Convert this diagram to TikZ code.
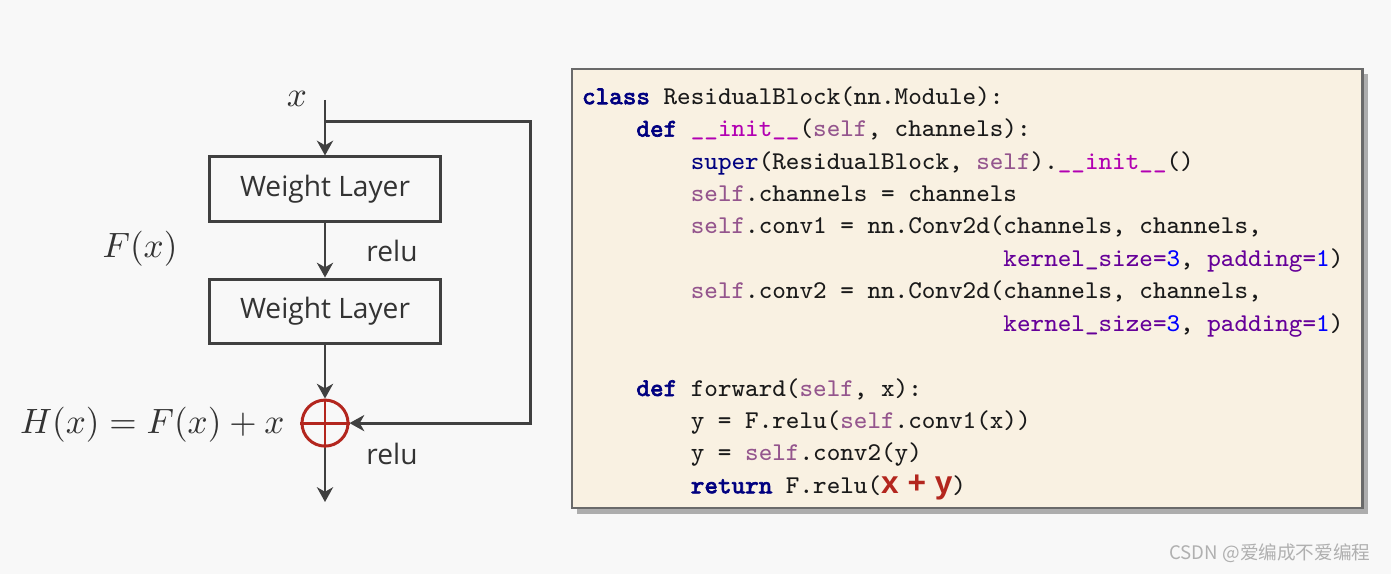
\documentclass[tikz,border=0pt]{standalone}
\usepackage{fontspec}
\usetikzlibrary{arrows.meta, positioning, calc, shadows}
\newfontfamily\labelfont{Open Sans}
\newfontfamily\codefont[BoldFont={*}, BoldFeatures={FakeBold=2.5}]{Latin Modern Mono}
\newfontfamily\sumfont{Liberation Sans}
\newfontfamily\cjkfont{Noto Sans CJK SC}
\definecolor{pagebg}{HTML}{F8F8F8}
\definecolor{linegray}{HTML}{404040}
\definecolor{textdark}{HTML}{333333}
\definecolor{sumred}{HTML}{B3261E}
\definecolor{codebg}{HTML}{F9F1E2}
\definecolor{codeborder}{HTML}{6A6A6A}
\definecolor{codenavy}{HTML}{000080}
\definecolor{codeself}{HTML}{94558D}
\definecolor{codemagic}{HTML}{B200B2}
\definecolor{codeparam}{HTML}{660099}
\definecolor{codenum}{HTML}{0000FF}
\definecolor{codetext}{HTML}{1A1A1A}
\definecolor{marktext}{HTML}{B0B0B0}

\newcommand{\kw}[1]{{\color{codenavy}\bfseries #1}}
\newcommand{\bltin}[1]{{\color{codenavy}#1}}
\newcommand{\slf}{{\color{codeself}self}}
\newcommand{\mg}[1]{{\color{codemagic}#1}}
\newcommand{\pr}[1]{{\color{codeparam}#1}}
\newcommand{\nm}[1]{{\color{codenum}#1}}
\newcommand{\xy}[1]{{\color{sumred}\sumfont\fontsize{9}{9}\selectfont\bfseries #1}}

\tikzset{
  layerbox/.style={draw=linegray, line width=0.85pt, fill=pagebg,
    minimum width=2.3cm, minimum height=0.64cm, inner sep=0pt,
    text=textdark, font=\labelfont\fontsize{8}{9}\selectfont},
  flow/.style={draw=linegray, line width=0.85pt, -{Stealth[length=4.2pt, width=4.6pt, inset=1.3pt]}},
  sumnode/.style={circle, draw=sumred, line width=0.85pt, minimum size=0.46cm, inner sep=0pt},
  lbl/.style={text=textdark, font=\labelfont\fontsize{8}{9}\selectfont},
  mathlbl/.style={text=textdark, font=\fontsize{9.7}{11}\selectfont},
}

\begin{document}
\begin{tikzpicture}[x=0.01cm, y=-0.01cm]
  \useasboundingbox (0,0) rectangle (1391,574);
  \fill[pagebg] (0,0) rectangle (1391,574);

  % residual block
  \coordinate (in) at (325,100);
  \node[layerbox] (w1) at (325,189) {Weight Layer};
  \node[layerbox, below=0.55cm of w1] (w2) {Weight Layer};
  \node[sumnode, below=0.54cm of w2] (sum) {};
  \draw[sumred, line width=0.85pt] (sum.north) -- (sum.south) (sum.west) -- (sum.east);
  \coordinate (out) at (325,502);
  \coordinate (skip) at (325,122);
  \coordinate (loop) at (530,122);

  \node[mathlbl] (xin) at (297,99) {$x$};
  \node[mathlbl] (fx) at (140,249) {$F(x)$};
  \node[mathlbl, anchor=east] (hx) at (297,425) {$H(x) = F(x) + x$};
  \node[lbl] (relu1) at (392,251) {relu};
  \node[lbl] (relu2) at (392,454) {relu};

  \draw[flow] (in) -- (w1);
  \draw[flow] (w1) -- (w2);
  \draw[flow] (w2) -- (sum);
  \draw[flow] (sum) -- (out);
  \draw[flow] (skip) -- (loop) |- (sum);

  % code listing
  \node[draw=codeborder, line width=0.6pt, fill=codebg, anchor=north west,
        drop shadow={shadow xshift=1.5pt, shadow yshift=-1.5pt, fill=black, opacity=0.3},
        minimum width=7.9cm, minimum height=4.39cm, text width=7.7cm, inner xsep=0.1cm, inner ysep=0pt,
        align=left, text=codetext, font=\codefont\fontsize{7.28}{9.22}\selectfont] (code) at (571,68) {
    \spaceskip=0pt\xspaceskip=0pt
    \rule{0pt}{7.6pt}\kw{class} ResidualBlock(nn.Module):\\
    ~~~~\kw{def} \mg{\_\_init\_\_}(\slf, channels):\\
    ~~~~~~~~\bltin{super}(ResidualBlock, \slf).\mg{\_\_init\_\_}()\\
    ~~~~~~~~\slf.channels = channels\\
    ~~~~~~~~\slf.conv1 = nn.Conv2d(channels, channels,\\
    ~~~~~~~~~~~~~~~~~~~~~~~~~~~~~~~\pr{kernel\_size=}\nm{3}, \pr{padding=}\nm{1})\\
    ~~~~~~~~\slf.conv2 = nn.Conv2d(channels, channels,\\
    ~~~~~~~~~~~~~~~~~~~~~~~~~~~~~~~\pr{kernel\_size=}\nm{3}, \pr{padding=}\nm{1})\\
    ~\\
    ~~~~\kw{def} forward(\slf, x):\\
    ~~~~~~~~y = F.relu(\slf.conv1(x))\\
    ~~~~~~~~y = \slf.conv2(y)\\
    ~~~~~~~~\kw{return} F.relu(\xy{x + y})
  };

  \node[text=marktext, font=\cjkfont\fontsize{5.3}{6}\selectfont] (mark) at (1270,553) {CSDN @爱编成不爱编程};
\end{tikzpicture}
\end{document}
